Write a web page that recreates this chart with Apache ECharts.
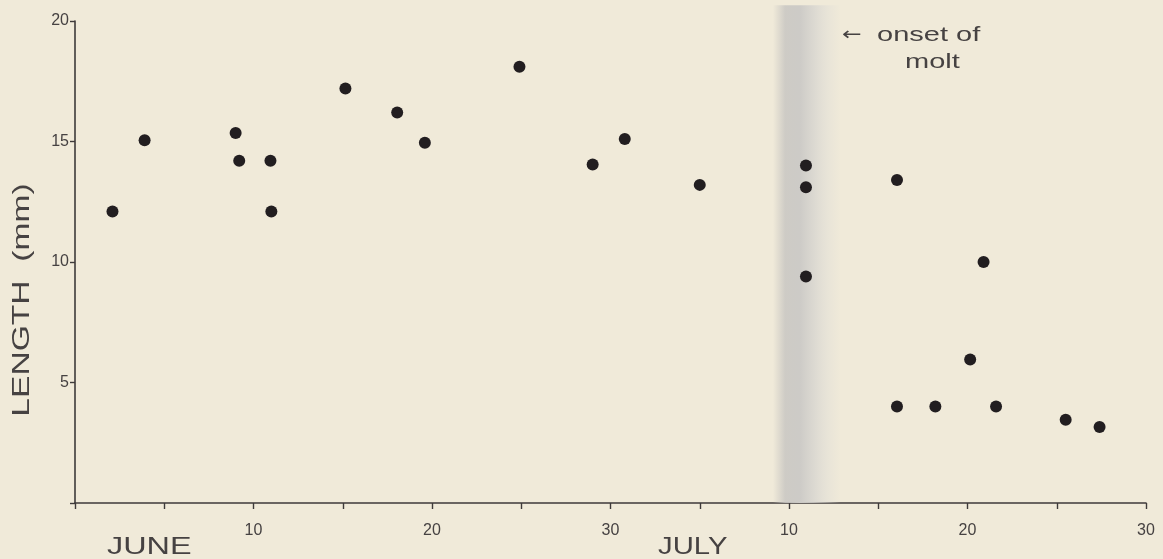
<!DOCTYPE html>
<html>
<head>
<meta charset="utf-8">
<script src="https://cdn.jsdelivr.net/npm/echarts@6/dist/echarts.min.js"></script>
<style>
html,body{margin:0;padding:0;background:#f0ead9;}
#chart{width:1163px;height:559px;}
</style>
</head>
<body>
<div id="chart"></div>
<script>
// Day index: June 1 = 1, June 30 = 30, July 10 = 40, July 30 = 60
const days = [2.1, 3.9, 9.0, 9.2, 10.95, 11.0, 15.15, 18.05, 19.6, 24.9, 29.0, 30.8, 35.0, 40.95, 40.95, 40.95, 46.05, 46.05, 48.2, 50.15, 50.9, 51.6, 55.5, 57.4];
const lengths = [12.1, 15.05, 15.35, 14.2, 14.2, 12.1, 17.2, 16.2, 14.95, 18.1, 14.05, 15.1, 13.2, 14.0, 13.1, 9.4, 13.4, 4.0, 4.0, 5.95, 10.0, 4.0, 3.45, 3.15];
const xTickLabels = {10: '10', 20: '20', 30: '30', 40: '10', 50: '20', 60: '30'};
const yTickLabels = {5: '5', 10: '10', 15: '15', 20: '20'};
const monthLabels = ['JUNE', 'JULY'];
const moltBand = [39.1, 42.9];
const moltBandTop = 20.65;
const annotation = ['onset of', 'molt'];
const yAxisTitle = 'LENGTH  (mm)';

const chart = echarts.init(document.getElementById('chart'));
const textColor = '#464242';
const font = 'Liberation Sans';

const bandGradient = {
  type: 'linear', x: 0, y: 0, x2: 1, y2: 0,
  colorStops: [
    {offset: 0, color: 'rgba(200,198,194,0)'},
    {offset: 0.18, color: 'rgba(200,198,194,0.85)'},
    {offset: 0.4, color: 'rgba(205,203,199,1)'},
    {offset: 0.6, color: 'rgba(214,212,207,0.8)'},
    {offset: 0.82, color: 'rgba(222,220,214,0.4)'},
    {offset: 1, color: 'rgba(222,220,214,0)'}
  ]
};

chart.setOption({
  backgroundColor: '#f0ead9',
  animation: false,
  grid: {left: 75, right: 17, top: 21, bottom: 56},
  xAxis: {
    type: 'value', min: 0, max: 60, interval: 5,
    splitLine: {show: false},
    axisLine: {show: true, lineStyle: {color: '#3e3a3a', width: 1.6}},
    axisTick: {show: true, length: 6, lineStyle: {color: '#3e3a3a', width: 1.4}},
    axisLabel: {
      margin: 20, color: textColor, fontSize: 16, fontFamily: font,
      formatter: v => xTickLabels[v] || ''
    }
  },
  yAxis: {
    type: 'value', min: 0, max: 20, interval: 5,
    splitLine: {show: false},
    axisLine: {show: true, lineStyle: {color: '#3e3a3a', width: 1.6}},
    axisTick: {show: true, length: 5, lineStyle: {color: '#3e3a3a', width: 1.4}},
    axisLabel: {
      margin: 6, color: textColor, fontSize: 16, fontFamily: font,
      formatter: v => yTickLabels[v] || ''
    }
  },
  series: [{
    type: 'custom',
    clip: false,
    silent: true,
    z: 1,
    data: [[moltBand[0], moltBand[1], 0, moltBandTop]],
    renderItem: function (params, api) {
      const p0 = api.coord([api.value(0), api.value(2)]);
      const p1 = api.coord([api.value(1), api.value(3)]);
      return {
        type: 'rect',
        shape: {x: p0[0], y: p1[1], width: p1[0] - p0[0], height: p0[1] - p1[1]},
        style: {fill: bandGradient}
      };
    }
  }, {
    type: 'scatter',
    data: days.map((d, i) => [d, lengths[i]]),
    symbol: 'circle',
    symbolSize: 12,
    itemStyle: {color: '#221e20', opacity: 1},
    clip: false,
    z: 5
  }],
  graphic: [
    {type: 'text', x: 107, y: 547, scaleX: 1.35,
     style: {text: monthLabels[0], fill: textColor, font: '24px "Liberation Sans"', align: 'left', verticalAlign: 'middle'}},
    {type: 'text', x: 658, y: 547, scaleX: 1.22,
     style: {text: monthLabels[1], fill: textColor, font: '24px "Liberation Sans"', align: 'left', verticalAlign: 'middle'}},
    {type: 'text', x: 22, y: 300, rotation: Math.PI / 2, scaleX: 1.4,
     style: {text: yAxisTitle, fill: textColor, font: '24px "Liberation Sans"', align: 'center', verticalAlign: 'middle'}},
    {type: 'text', x: 842, y: 35, scaleX: 1.3,
     style: {text: '\u2190', fill: textColor, font: '18px "DejaVu Sans"', align: 'left', verticalAlign: 'middle'}},
    {type: 'text', x: 877, y: 35, scaleX: 1.45,
     style: {text: annotation[0], fill: textColor, font: '20px "Liberation Sans"', align: 'left', verticalAlign: 'middle'}},
    {type: 'text', x: 905, y: 62, scaleX: 1.45,
     style: {text: annotation[1], fill: textColor, font: '20px "Liberation Sans"', align: 'left', verticalAlign: 'middle'}}
  ]
});
</script>
</body>
</html>
